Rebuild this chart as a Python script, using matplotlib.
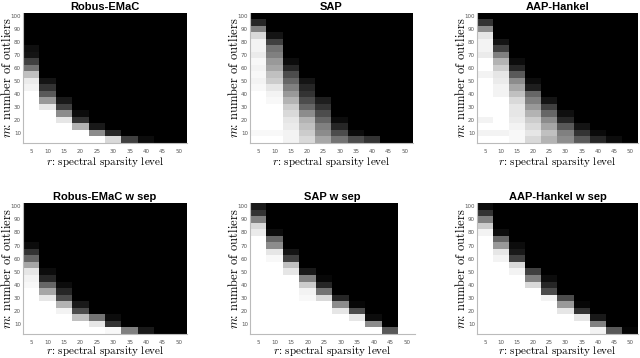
import numpy as np
import matplotlib.pyplot as plt

r_levels = [5, 10, 15, 20, 25, 30, 35, 40, 45, 50]
m_ticks = [10, 20, 30, 40, 50, 60, 70, 80, 90, 100]
titles = ["Robus-EMaC", "SAP", "AAP-Hankel",
          "Robus-EMaC w sep", "SAP w sep", "AAP-Hankel w sep"]

# success rates, rows from m=100 (top) down to m=5, columns r=5..50
robus_emac = [
    [0, 0, 0, 0, 0, 0, 0, 0, 0, 0],
    [0, 0, 0, 0, 0, 0, 0, 0, 0, 0],
    [0, 0, 0, 0, 0, 0, 0, 0, 0, 0],
    [0, 0, 0, 0, 0, 0, 0, 0, 0, 0],
    [0, 0, 0, 0, 0, 0, 0, 0, 0, 0],
    [0.06, 0, 0, 0, 0, 0, 0, 0, 0, 0],
    [0.08, 0, 0, 0, 0, 0, 0, 0, 0, 0],
    [0.25, 0, 0, 0, 0, 0, 0, 0, 0, 0],
    [0.45, 0, 0, 0, 0, 0, 0, 0, 0, 0],
    [0.75, 0, 0, 0, 0, 0, 0, 0, 0, 0],
    [0.92, 0.08, 0, 0, 0, 0, 0, 0, 0, 0],
    [0.95, 0.2, 0, 0, 0, 0, 0, 0, 0, 0],
    [1, 0.35, 0, 0, 0, 0, 0, 0, 0, 0],
    [1, 0.6, 0.1, 0, 0, 0, 0, 0, 0, 0],
    [1, 0.9, 0.25, 0, 0, 0, 0, 0, 0, 0],
    [1, 1, 0.55, 0.05, 0, 0, 0, 0, 0, 0],
    [1, 1, 0.9, 0.2, 0, 0, 0, 0, 0, 0],
    [1, 1, 1, 0.7, 0.1, 0, 0, 0, 0, 0],
    [1, 1, 1, 1, 0.55, 0.15, 0, 0, 0, 0],
    [1, 1, 1, 1, 1, 0.85, 0.25, 0.05, 0, 0],
]
sap = [
    [0, 0, 0, 0, 0, 0, 0, 0, 0, 0],
    [0.15, 0, 0, 0, 0, 0, 0, 0, 0, 0],
    [0.5, 0, 0, 0, 0, 0, 0, 0, 0, 0],
    [0.85, 0.08, 0, 0, 0, 0, 0, 0, 0, 0],
    [0.95, 0.25, 0, 0, 0, 0, 0, 0, 0, 0],
    [0.95, 0.45, 0, 0, 0, 0, 0, 0, 0, 0],
    [0.92, 0.5, 0, 0, 0, 0, 0, 0, 0, 0],
    [0.97, 0.6, 0.05, 0, 0, 0, 0, 0, 0, 0],
    [0.95, 0.65, 0.15, 0, 0, 0, 0, 0, 0, 0],
    [0.97, 0.75, 0.3, 0, 0, 0, 0, 0, 0, 0],
    [0.95, 0.8, 0.4, 0.08, 0, 0, 0, 0, 0, 0],
    [0.97, 0.9, 0.5, 0.15, 0, 0, 0, 0, 0, 0],
    [1, 0.95, 0.6, 0.2, 0, 0, 0, 0, 0, 0],
    [1, 0.97, 0.7, 0.3, 0.12, 0, 0, 0, 0, 0],
    [1, 1, 0.8, 0.4, 0.2, 0, 0, 0, 0, 0],
    [1, 1, 0.85, 0.55, 0.3, 0, 0, 0, 0, 0],
    [1, 1, 0.9, 0.7, 0.4, 0.05, 0, 0, 0, 0],
    [1, 1, 0.92, 0.75, 0.5, 0.15, 0, 0, 0, 0],
    [0.97, 0.97, 0.95, 0.8, 0.55, 0.3, 0.05, 0, 0, 0],
    [1, 1, 0.95, 0.85, 0.65, 0.45, 0.3, 0.2, 0, 0],
]
aap_hankel = [
    [0, 0, 0, 0, 0, 0, 0, 0, 0, 0],
    [0.2, 0, 0, 0, 0, 0, 0, 0, 0, 0],
    [0.55, 0, 0, 0, 0, 0, 0, 0, 0, 0],
    [0.9, 0, 0, 0, 0, 0, 0, 0, 0, 0],
    [0.95, 0.08, 0, 0, 0, 0, 0, 0, 0, 0],
    [0.95, 0.25, 0, 0, 0, 0, 0, 0, 0, 0],
    [0.92, 0.5, 0, 0, 0, 0, 0, 0, 0, 0],
    [1, 0.7, 0.05, 0, 0, 0, 0, 0, 0, 0],
    [1, 0.8, 0.15, 0, 0, 0, 0, 0, 0, 0],
    [0.95, 0.9, 0.35, 0, 0, 0, 0, 0, 0, 0],
    [1, 0.92, 0.55, 0.05, 0, 0, 0, 0, 0, 0],
    [1, 0.95, 0.65, 0.12, 0, 0, 0, 0, 0, 0],
    [1, 0.95, 0.75, 0.4, 0, 0, 0, 0, 0, 0],
    [1, 1, 0.85, 0.5, 0.08, 0, 0, 0, 0, 0],
    [1, 1, 0.9, 0.6, 0.25, 0, 0, 0, 0, 0],
    [1, 1, 0.9, 0.7, 0.4, 0.06, 0, 0, 0, 0],
    [0.95, 1, 0.92, 0.8, 0.55, 0.15, 0, 0, 0, 0],
    [1, 1, 0.95, 0.85, 0.65, 0.35, 0.08, 0, 0, 0],
    [0.95, 0.95, 0.97, 0.9, 0.75, 0.5, 0.2, 0.04, 0, 0],
    [1, 1, 0.97, 0.85, 0.7, 0.55, 0.35, 0.15, 0.05, 0],
]
robus_emac_sep = [
    [0, 0, 0, 0, 0, 0, 0, 0, 0, 0],
    [0, 0, 0, 0, 0, 0, 0, 0, 0, 0],
    [0, 0, 0, 0, 0, 0, 0, 0, 0, 0],
    [0, 0, 0, 0, 0, 0, 0, 0, 0, 0],
    [0, 0, 0, 0, 0, 0, 0, 0, 0, 0],
    [0, 0, 0, 0, 0, 0, 0, 0, 0, 0],
    [0.05, 0, 0, 0, 0, 0, 0, 0, 0, 0],
    [0.2, 0, 0, 0, 0, 0, 0, 0, 0, 0],
    [0.4, 0, 0, 0, 0, 0, 0, 0, 0, 0],
    [0.65, 0, 0, 0, 0, 0, 0, 0, 0, 0],
    [0.9, 0.05, 0, 0, 0, 0, 0, 0, 0, 0],
    [0.95, 0.15, 0, 0, 0, 0, 0, 0, 0, 0],
    [0.97, 0.4, 0.05, 0, 0, 0, 0, 0, 0, 0],
    [1, 0.65, 0.15, 0, 0, 0, 0, 0, 0, 0],
    [1, 0.9, 0.3, 0, 0, 0, 0, 0, 0, 0],
    [1, 1, 0.7, 0.1, 0, 0, 0, 0, 0, 0],
    [1, 1, 0.95, 0.3, 0, 0, 0, 0, 0, 0],
    [1, 1, 1, 0.75, 0.45, 0.05, 0, 0, 0, 0],
    [1, 1, 1, 1, 0.9, 0.2, 0, 0, 0, 0],
    [1, 1, 1, 1, 1, 0.97, 0.5, 0.1, 0, 0],
]
nan = np.nan
sap_sep = [
    [0.1, 0, 0, 0, 0, 0, 0, 0, 0, nan],
    [0.2, 0, 0, 0, 0, 0, 0, 0, 0, nan],
    [0.5, 0, 0, 0, 0, 0, 0, 0, 0, nan],
    [0.85, 0, 0, 0, 0, 0, 0, 0, 0, nan],
    [0.92, 0.05, 0, 0, 0, 0, 0, 0, 0, nan],
    [1, 0.4, 0, 0, 0, 0, 0, 0, 0, nan],
    [1, 0.55, 0, 0, 0, 0, 0, 0, 0, nan],
    [1, 0.9, 0.08, 0, 0, 0, 0, 0, 0, nan],
    [1, 0.97, 0.25, 0, 0, 0, 0, 0, 0, nan],
    [1, 1, 0.75, 0, 0, 0, 0, 0, 0, nan],
    [1, 1, 0.9, 0.1, 0, 0, 0, 0, 0, nan],
    [1, 1, 1, 0.5, 0.03, 0, 0, 0, 0, nan],
    [1, 1, 1, 0.8, 0.15, 0, 0, 0, 0, nan],
    [1, 1, 1, 0.95, 0.45, 0, 0, 0, 0, nan],
    [1, 1, 1, 0.97, 0.85, 0.15, 0, 0, 0, nan],
    [1, 1, 1, 1, 1, 0.55, 0.03, 0, 0, nan],
    [1, 1, 1, 1, 1, 0.9, 0.3, 0, 0, nan],
    [1, 1, 1, 1, 1, 1, 0.9, 0.05, 0, nan],
    [1, 1, 1, 1, 1, 1, 1, 0.55, 0, nan],
    [1, 1, 1, 1, 1, 1, 1, 1, 0.35, nan],
]
aap_hankel_sep = [
    [0.05, 0, 0, 0, 0, 0, 0, 0, 0, 0],
    [0.2, 0, 0, 0, 0, 0, 0, 0, 0, 0],
    [0.5, 0, 0, 0, 0, 0, 0, 0, 0, 0],
    [0.8, 0, 0, 0, 0, 0, 0, 0, 0, 0],
    [0.95, 0.05, 0, 0, 0, 0, 0, 0, 0, 0],
    [1, 0.4, 0, 0, 0, 0, 0, 0, 0, 0],
    [1, 0.6, 0.05, 0, 0, 0, 0, 0, 0, 0],
    [1, 0.9, 0.1, 0, 0, 0, 0, 0, 0, 0],
    [1, 0.95, 0.25, 0, 0, 0, 0, 0, 0, 0],
    [1, 1, 0.85, 0, 0, 0, 0, 0, 0, 0],
    [1, 1, 0.95, 0.25, 0, 0, 0, 0, 0, 0],
    [1, 1, 1, 0.5, 0.05, 0, 0, 0, 0, 0],
    [1, 1, 1, 0.85, 0.15, 0, 0, 0, 0, 0],
    [1, 1, 1, 1, 0.3, 0, 0, 0, 0, 0],
    [1, 1, 1, 1, 0.95, 0.3, 0, 0, 0, 0],
    [1, 1, 1, 1, 1, 0.6, 0.03, 0, 0, 0],
    [1, 1, 1, 1, 1, 0.9, 0.2, 0, 0, 0],
    [1, 1, 1, 1, 1, 1, 0.9, 0.1, 0, 0],
    [1, 1, 1, 1, 1, 1, 1, 0.5, 0, 0],
    [1, 1, 1, 1, 1, 1, 1, 0.95, 0.35, 0.02],
]

panels = [robus_emac, sap, aap_hankel, robus_emac_sep, sap_sep, aap_hankel_sep]

# axes boxes in figure pixels: left, top, right, bottom
boxes = [(23, 13, 187, 143), (250, 13, 413, 143), (477, 13, 638, 143),
         (23, 203, 187, 334), (250, 203, 415, 334), (477, 203, 638, 334)]

plt.rcParams["mathtext.fontset"] = "cm"
W, H = 640, 358
fig = plt.figure(figsize=(W / 100, H / 100), dpi=100)

cmap = plt.get_cmap("gray").copy()
cmap.set_bad("white")

for i, (data, title, (x0, y0, x1, y1)) in enumerate(zip(panels, titles, boxes)):
    ax = fig.add_axes([x0 / W, (H - y1) / H, (x1 - x0) / W, (y1 - y0) / H])
    ax.imshow(np.ma.masked_invalid(np.array(data, dtype=float)), cmap=cmap,
              vmin=0, vmax=1, aspect="auto", interpolation="nearest",
              origin="upper", extent=(2.5, 52.5, 2.5, 102.5))
    ax.set_xticks(r_levels)
    ax.set_yticks(m_ticks)
    ax.tick_params(length=0, labelsize=4, labelcolor="#555555")
    ax.tick_params(axis="x", pad=4)
    ax.tick_params(axis="y", pad=1.5)
    for s in ["top", "right"]:
        ax.spines[s].set_visible(False)
    for s in ["left", "bottom"]:
        ax.spines[s].set_color("#bbbbbb")
        ax.spines[s].set_linewidth(0.8)
    ax.set_title(title, fontsize=8, fontweight="bold", family="Liberation Sans", pad=2)
    ax.set_xlabel(r"$r$: spectral sparsity level", fontsize=8, family="cmr10")
    ax.set_ylabel(r"$m$: number of outliers", fontsize=9, family="cmr10")
    ax.xaxis.set_label_coords(0.5, -0.09 if i < 3 else -0.075)
    ax.yaxis.set_label_coords(-0.057, 0.5)

plt.savefig("out.png", dpi=100)
